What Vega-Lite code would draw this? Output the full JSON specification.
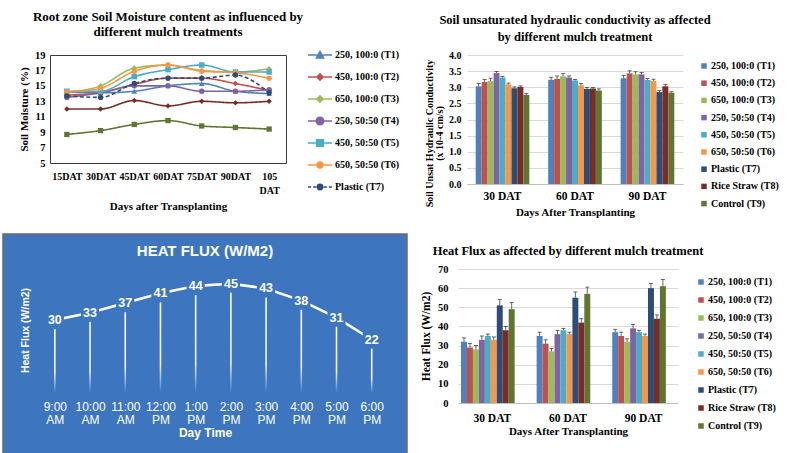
{
  "$schema": "https://vega.github.io/schema/vega-lite/v6.json",
  "background": "white",
  "padding": {"left": 2, "top": 10, "right": 0, "bottom": 0},
  "config": {
    "font": "Liberation Serif",
    "view": {"stroke": null},
    "axis": {"labelColor": "#000000", "titleColor": "#000000", "labelFont": "Liberation Serif", "titleFont": "Liberation Serif", "labelFontWeight": "bold", "titleFontWeight": "bold"},
    "legend": {"labelFont": "Liberation Serif", "labelFontWeight": "bold", "labelColor": "#000000"},
    "title": {"font": "Liberation Serif", "fontWeight": "bold", "color": "#000000", "anchor": "middle"}
  },
  "datasets": {
    "moisture": [
      {"d": "15DAT", "t": "250, 100:0 (T1)", "v": 14.2}, {"d": "30DAT", "t": "250, 100:0 (T1)", "v": 14.1}, {"d": "45DAT", "t": "250, 100:0 (T1)", "v": 14.3}, {"d": "60DAT", "t": "250, 100:0 (T1)", "v": 15.0}, {"d": "75DAT", "t": "250, 100:0 (T1)", "v": 15.3}, {"d": "90DAT", "t": "250, 100:0 (T1)", "v": 14.3}, {"d": "105 DAT", "t": "250, 100:0 (T1)", "v": 14.0},
      {"d": "15DAT", "t": "450, 100:0 (T2)", "v": 13.8}, {"d": "30DAT", "t": "450, 100:0 (T2)", "v": 14.1}, {"d": "45DAT", "t": "450, 100:0 (T2)", "v": 15.2}, {"d": "60DAT", "t": "450, 100:0 (T2)", "v": 16.0}, {"d": "75DAT", "t": "450, 100:0 (T2)", "v": 16.0}, {"d": "90DAT", "t": "450, 100:0 (T2)", "v": 15.3}, {"d": "105 DAT", "t": "450, 100:0 (T2)", "v": 14.4},
      {"d": "15DAT", "t": "650, 100:0 (T3)", "v": 14.2}, {"d": "30DAT", "t": "650, 100:0 (T3)", "v": 15.0}, {"d": "45DAT", "t": "650, 100:0 (T3)", "v": 17.3}, {"d": "60DAT", "t": "650, 100:0 (T3)", "v": 17.7}, {"d": "75DAT", "t": "650, 100:0 (T3)", "v": 17.0}, {"d": "90DAT", "t": "650, 100:0 (T3)", "v": 16.8}, {"d": "105 DAT", "t": "650, 100:0 (T3)", "v": 17.2},
      {"d": "15DAT", "t": "250, 50:50 (T4)", "v": 13.5}, {"d": "30DAT", "t": "250, 50:50 (T4)", "v": 14.1}, {"d": "45DAT", "t": "250, 50:50 (T4)", "v": 15.0}, {"d": "60DAT", "t": "250, 50:50 (T4)", "v": 15.0}, {"d": "75DAT", "t": "250, 50:50 (T4)", "v": 14.3}, {"d": "90DAT", "t": "250, 50:50 (T4)", "v": 14.3}, {"d": "105 DAT", "t": "250, 50:50 (T4)", "v": 14.5},
      {"d": "15DAT", "t": "450, 50:50 (T5)", "v": 14.3}, {"d": "30DAT", "t": "450, 50:50 (T5)", "v": 14.3}, {"d": "45DAT", "t": "450, 50:50 (T5)", "v": 16.2}, {"d": "60DAT", "t": "450, 50:50 (T5)", "v": 17.1}, {"d": "75DAT", "t": "450, 50:50 (T5)", "v": 17.7}, {"d": "90DAT", "t": "450, 50:50 (T5)", "v": 16.8}, {"d": "105 DAT", "t": "450, 50:50 (T5)", "v": 16.8},
      {"d": "15DAT", "t": "650, 50:50 (T6)", "v": 14.2}, {"d": "30DAT", "t": "650, 50:50 (T6)", "v": 14.7}, {"d": "45DAT", "t": "650, 50:50 (T6)", "v": 16.9}, {"d": "60DAT", "t": "650, 50:50 (T6)", "v": 17.7}, {"d": "75DAT", "t": "650, 50:50 (T6)", "v": 16.9}, {"d": "90DAT", "t": "650, 50:50 (T6)", "v": 16.7}, {"d": "105 DAT", "t": "650, 50:50 (T6)", "v": 16.0},
      {"d": "15DAT", "t": "Plastic (T7)", "v": 13.7}, {"d": "30DAT", "t": "Plastic (T7)", "v": 13.5}, {"d": "45DAT", "t": "Plastic (T7)", "v": 15.3}, {"d": "60DAT", "t": "Plastic (T7)", "v": 16.0}, {"d": "75DAT", "t": "Plastic (T7)", "v": 16.0}, {"d": "90DAT", "t": "Plastic (T7)", "v": 16.4}, {"d": "105 DAT", "t": "Plastic (T7)", "v": 14.1},
      {"d": "15DAT", "t": "Rice Straw (T8)", "v": 12.0}, {"d": "30DAT", "t": "Rice Straw (T8)", "v": 12.0}, {"d": "45DAT", "t": "Rice Straw (T8)", "v": 13.1}, {"d": "60DAT", "t": "Rice Straw (T8)", "v": 12.4}, {"d": "75DAT", "t": "Rice Straw (T8)", "v": 13.0}, {"d": "90DAT", "t": "Rice Straw (T8)", "v": 12.8}, {"d": "105 DAT", "t": "Rice Straw (T8)", "v": 13.0},
      {"d": "15DAT", "t": "Control (T9)", "v": 8.7}, {"d": "30DAT", "t": "Control (T9)", "v": 9.2}, {"d": "45DAT", "t": "Control (T9)", "v": 10.0}, {"d": "60DAT", "t": "Control (T9)", "v": 10.5}, {"d": "75DAT", "t": "Control (T9)", "v": 9.8}, {"d": "90DAT", "t": "Control (T9)", "v": 9.6}, {"d": "105 DAT", "t": "Control (T9)", "v": 9.4}
    ],
    "hc": [
      {"d": "30 DAT", "t": "250, 100:0 (T1)", "v": 3.03, "hi": 3.12}, {"d": "30 DAT", "t": "450, 100:0 (T2)", "v": 3.16, "hi": 3.24}, {"d": "30 DAT", "t": "650, 100:0 (T3)", "v": 3.19, "hi": 3.28}, {"d": "30 DAT", "t": "250, 50:50 (T4)", "v": 3.44, "hi": 3.49}, {"d": "30 DAT", "t": "450, 50:50 (T5)", "v": 3.30, "hi": 3.33}, {"d": "30 DAT", "t": "650, 50:50 (T6)", "v": 3.09, "hi": 3.13}, {"d": "30 DAT", "t": "Plastic (T7)", "v": 2.97, "hi": 3.01}, {"d": "30 DAT", "t": "Rice Straw (T8)", "v": 3.01, "hi": 3.04}, {"d": "30 DAT", "t": "Control (T9)", "v": 2.76, "hi": 2.80},
      {"d": "60 DAT", "t": "250, 100:0 (T1)", "v": 3.23, "hi": 3.31}, {"d": "60 DAT", "t": "450, 100:0 (T2)", "v": 3.26, "hi": 3.35}, {"d": "60 DAT", "t": "650, 100:0 (T3)", "v": 3.34, "hi": 3.42}, {"d": "60 DAT", "t": "250, 50:50 (T4)", "v": 3.30, "hi": 3.35}, {"d": "60 DAT", "t": "450, 50:50 (T5)", "v": 3.21, "hi": 3.24}, {"d": "60 DAT", "t": "650, 50:50 (T6)", "v": 3.06, "hi": 3.12}, {"d": "60 DAT", "t": "Plastic (T7)", "v": 2.95, "hi": 2.99}, {"d": "60 DAT", "t": "Rice Straw (T8)", "v": 2.96, "hi": 2.99}, {"d": "60 DAT", "t": "Control (T9)", "v": 2.90, "hi": 2.95},
      {"d": "90 DAT", "t": "250, 100:0 (T1)", "v": 3.28, "hi": 3.37}, {"d": "90 DAT", "t": "450, 100:0 (T2)", "v": 3.43, "hi": 3.51}, {"d": "90 DAT", "t": "650, 100:0 (T3)", "v": 3.40, "hi": 3.48}, {"d": "90 DAT", "t": "250, 50:50 (T4)", "v": 3.40, "hi": 3.46}, {"d": "90 DAT", "t": "450, 50:50 (T5)", "v": 3.23, "hi": 3.27}, {"d": "90 DAT", "t": "650, 50:50 (T6)", "v": 3.20, "hi": 3.25}, {"d": "90 DAT", "t": "Plastic (T7)", "v": 2.85, "hi": 2.90}, {"d": "90 DAT", "t": "Rice Straw (T8)", "v": 3.03, "hi": 3.08}, {"d": "90 DAT", "t": "Control (T9)", "v": 2.83, "hi": 2.86}
    ],
    "hf": [
      {"d": "30 DAT", "t": "250, 100:0 (T1)", "v": 32, "hi": 34}, {"d": "30 DAT", "t": "450, 100:0 (T2)", "v": 29, "hi": 31}, {"d": "30 DAT", "t": "650, 100:0 (T3)", "v": 28, "hi": 30}, {"d": "30 DAT", "t": "250, 50:50 (T4)", "v": 33, "hi": 35}, {"d": "30 DAT", "t": "450, 50:50 (T5)", "v": 35, "hi": 36}, {"d": "30 DAT", "t": "650, 50:50 (T6)", "v": 33, "hi": 34.5}, {"d": "30 DAT", "t": "Plastic (T7)", "v": 51, "hi": 54}, {"d": "30 DAT", "t": "Rice Straw (T8)", "v": 38, "hi": 40}, {"d": "30 DAT", "t": "Control (T9)", "v": 49, "hi": 52.5},
      {"d": "60 DAT", "t": "250, 100:0 (T1)", "v": 35, "hi": 37}, {"d": "60 DAT", "t": "450, 100:0 (T2)", "v": 31, "hi": 33}, {"d": "60 DAT", "t": "650, 100:0 (T3)", "v": 27, "hi": 28.5}, {"d": "60 DAT", "t": "250, 50:50 (T4)", "v": 36, "hi": 38}, {"d": "60 DAT", "t": "450, 50:50 (T5)", "v": 38, "hi": 39}, {"d": "60 DAT", "t": "650, 50:50 (T6)", "v": 36, "hi": 37}, {"d": "60 DAT", "t": "Plastic (T7)", "v": 55, "hi": 58}, {"d": "60 DAT", "t": "Rice Straw (T8)", "v": 42, "hi": 44}, {"d": "60 DAT", "t": "Control (T9)", "v": 57, "hi": 60.5},
      {"d": "90 DAT", "t": "250, 100:0 (T1)", "v": 37, "hi": 38.5}, {"d": "90 DAT", "t": "450, 100:0 (T2)", "v": 35, "hi": 37}, {"d": "90 DAT", "t": "650, 100:0 (T3)", "v": 32, "hi": 33.5}, {"d": "90 DAT", "t": "250, 50:50 (T4)", "v": 39, "hi": 41}, {"d": "90 DAT", "t": "450, 50:50 (T5)", "v": 37, "hi": 38}, {"d": "90 DAT", "t": "650, 50:50 (T6)", "v": 35, "hi": 36}, {"d": "90 DAT", "t": "Plastic (T7)", "v": 60, "hi": 62.5}, {"d": "90 DAT", "t": "Rice Straw (T8)", "v": 44, "hi": 46}, {"d": "90 DAT", "t": "Control (T9)", "v": 61, "hi": 64.5}
    ],
    "flux": [
      {"hour": 9, "flux": 30}, {"hour": 10, "flux": 33}, {"hour": 11, "flux": 37}, {"hour": 12, "flux": 41}, {"hour": 13, "flux": 44},
      {"hour": 14, "flux": 45}, {"hour": 15, "flux": 43}, {"hour": 16, "flux": 38}, {"hour": 17, "flux": 31}, {"hour": 18, "flux": 22}
    ]
  },
  "spacing": 15,
  "resolve": {"scale": {"color": "independent"}, "legend": {"color": "independent"}},
  "vconcat": [
    {
      "spacing": 23,
      "resolve": {"scale": {"color": "independent"}, "legend": {"color": "independent"}},
      "hconcat": [
        {
          "spacing": 0,
          "hconcat": [
            {"data": {"values": []}, "mark": "point", "width": 14, "height": 10, "view": {"stroke": "transparent"}},
            {
              "width": 236,
              "height": 108,
              "title": {"text": ["Root zone Soil Moisture content as influenced by", "different mulch treatments"], "fontSize": 13, "lineHeight": 15, "offset": 4},
              "view": {"stroke": "#3a3a3a", "strokeWidth": 1},
              "data": {"name": "moisture"},
              "encoding": {
                "x": {"field": "d", "type": "nominal", "sort": null,
                  "scale": {"type": "point", "padding": 0.5, "domain": ["15DAT", "30DAT", "45DAT", "60DAT", "75DAT", "90DAT", "105 DAT"]},
                  "axis": {"labelAngle": 0, "ticks": false, "domain": false, "labelFontSize": 10, "labelPadding": 8, "labelLineHeight": 14,
                    "labelExpr": "datum.label == '105 DAT' ? ['105', 'DAT'] : datum.label",
                    "title": "Days after Transplanting", "titleFontSize": 11, "titlePadding": 5}},
                "y": {"field": "v", "type": "quantitative",
                  "scale": {"domain": [5, 19], "nice": false, "zero": false},
                  "axis": {"values": [5, 7, 9, 11, 13, 15, 17, 19], "ticks": false, "domain": false, "grid": false, "labelFontSize": 10.5, "labelPadding": 5,
                    "title": "Soil Moisture (%)", "titleFontSize": 11, "titlePadding": 5}}
              },
              "layer": [
                {
                  "mark": {"type": "line", "strokeWidth": 1.6, "interpolate": "monotone"},
                  "encoding": {
                    "color": {"field": "t", "type": "nominal", "legend": null,
                      "scale": {"domain": ["250, 100:0 (T1)", "450, 100:0 (T2)", "650, 100:0 (T3)", "250, 50:50 (T4)", "450, 50:50 (T5)", "650, 50:50 (T6)", "Plastic (T7)", "Rice Straw (T8)", "Control (T9)"],
                        "range": ["#4F81BD", "#C0504D", "#9BBB59", "#8064A2", "#4BACC6", "#F79646", "#2C4D75", "#772C2A", "#5F7530"]}},
                    "strokeDash": {"field": "t", "type": "nominal", "legend": null,
                      "scale": {"domain": ["250, 100:0 (T1)", "450, 100:0 (T2)", "650, 100:0 (T3)", "250, 50:50 (T4)", "450, 50:50 (T5)", "650, 50:50 (T6)", "Plastic (T7)", "Rice Straw (T8)", "Control (T9)"],
                        "range": [[1, 0], [1, 0], [1, 0], [1, 0], [1, 0], [1, 0], [4, 2.5], [1, 0], [1, 0]]}}
                  }
                },
                {
                  "mark": {"type": "point", "filled": true, "opacity": 1},
                  "encoding": {
                    "color": {"field": "t", "type": "nominal", "legend": null,
                      "scale": {"domain": ["250, 100:0 (T1)", "450, 100:0 (T2)", "650, 100:0 (T3)", "250, 50:50 (T4)", "450, 50:50 (T5)", "650, 50:50 (T6)", "Plastic (T7)", "Rice Straw (T8)", "Control (T9)"],
                        "range": ["#4F81BD", "#C0504D", "#9BBB59", "#8064A2", "#4BACC6", "#F79646", "#2C4D75", "#772C2A", "#5F7530"]}},
                    "shape": {"field": "t", "type": "nominal", "legend": null,
                      "scale": {"domain": ["250, 100:0 (T1)", "450, 100:0 (T2)", "650, 100:0 (T3)", "250, 50:50 (T4)", "450, 50:50 (T5)", "650, 50:50 (T6)", "Plastic (T7)", "Rice Straw (T8)", "Control (T9)"],
                        "range": ["triangle-up", "diamond", "diamond", "circle", "square", "circle", "circle", "diamond", "square"]}},
                    "size": {"field": "t", "type": "nominal", "legend": null,
                      "scale": {"domain": ["250, 100:0 (T1)", "450, 100:0 (T2)", "650, 100:0 (T3)", "250, 50:50 (T4)", "450, 50:50 (T5)", "650, 50:50 (T6)", "Plastic (T7)", "Rice Straw (T8)", "Control (T9)"],
                        "range": [32, 28, 28, 60, 55, 40, 34, 50, 64]}}
                  }
                },
                {
                  "mark": {"type": "point", "filled": true, "opacity": 0},
                  "encoding": {
                    "fill": {"field": "t", "type": "nominal",
                      "scale": {"domain": ["250, 100:0 (T1)", "450, 100:0 (T2)", "650, 100:0 (T3)", "250, 50:50 (T4)", "450, 50:50 (T5)", "650, 50:50 (T6)", "Plastic (T7)", "Rice Straw (T8)", "Control (T9)"],
                        "range": ["#4F81BD", "#C0504D", "#9BBB59", "#8064A2", "#4BACC6", "#F79646", "#2C4D75", "#772C2A", "#5F7530"]},
                      "legend": {"orient": "none", "legendX": 258, "legendY": -12, "title": null, "values": ["250, 100:0 (T1)", "450, 100:0 (T2)", "650, 100:0 (T3)", "250, 50:50 (T4)", "450, 50:50 (T5)", "650, 50:50 (T6)", "Plastic (T7)"], "symbolSize": 484, "symbolStrokeWidth": 1.6, "symbolOpacity": 1, "labelFontSize": 10, "labelOffset": 3, "rowPadding": 3}},
                    "stroke": {"field": "t", "type": "nominal",
                      "scale": {"domain": ["250, 100:0 (T1)", "450, 100:0 (T2)", "650, 100:0 (T3)", "250, 50:50 (T4)", "450, 50:50 (T5)", "650, 50:50 (T6)", "Plastic (T7)", "Rice Straw (T8)", "Control (T9)"],
                        "range": ["#4F81BD", "#C0504D", "#9BBB59", "#8064A2", "#4BACC6", "#F79646", "#2C4D75", "#772C2A", "#5F7530"]},
                      "legend": {"orient": "none", "legendX": 258, "legendY": -12, "title": null, "values": ["250, 100:0 (T1)", "450, 100:0 (T2)", "650, 100:0 (T3)", "250, 50:50 (T4)", "450, 50:50 (T5)", "650, 50:50 (T6)", "Plastic (T7)"], "symbolSize": 484, "symbolStrokeWidth": 1.6, "symbolOpacity": 1, "labelFontSize": 10, "labelOffset": 3, "rowPadding": 3}},
                    "shape": {"field": "t", "type": "nominal",
                      "scale": {"domain": ["250, 100:0 (T1)", "450, 100:0 (T2)", "650, 100:0 (T3)", "250, 50:50 (T4)", "450, 50:50 (T5)", "650, 50:50 (T6)", "Plastic (T7)", "Rice Straw (T8)", "Control (T9)"],
                        "range": [
                          "M-1.1,0H1.1M-0.32,0.26L0,-0.3L0.32,0.26Z",
                          "M-1.1,0H1.1M-0.28,0L0,-0.28L0.28,0L0,0.28Z",
                          "M-1.1,0H1.1M-0.28,0L0,-0.28L0.28,0L0,0.28Z",
                          "M-1.1,0H1.1M-0.34,0A0.34,0.34,0,1,0,0.34,0A0.34,0.34,0,1,0,-0.34,0Z",
                          "M-1.1,0H1.1M-0.3,-0.3H0.3V0.3H-0.3Z",
                          "M-1.1,0H1.1M-0.26,0A0.26,0.26,0,1,0,0.26,0A0.26,0.26,0,1,0,-0.26,0Z",
                          "M-1.1,0H-0.8M-0.62,0H-0.34M0.34,0H0.62M0.8,0H1.1M-0.24,0A0.24,0.24,0,1,0,0.24,0A0.24,0.24,0,1,0,-0.24,0Z",
                          "M-1.1,0H1.1M-0.3,0L0,-0.3L0.3,0L0,0.3Z",
                          "M-1.1,0H1.1M-0.3,-0.3H0.3V0.3H-0.3Z"
                        ]},
                      "legend": {"orient": "none", "legendX": 258, "legendY": -12, "title": null, "values": ["250, 100:0 (T1)", "450, 100:0 (T2)", "650, 100:0 (T3)", "250, 50:50 (T4)", "450, 50:50 (T5)", "650, 50:50 (T6)", "Plastic (T7)"], "symbolSize": 484, "symbolStrokeWidth": 1.6, "symbolOpacity": 1, "labelFontSize": 10, "labelOffset": 3, "rowPadding": 3}}
                  }
                }
              ],
              "resolve": {"scale": {"shape": "independent", "fill": "independent", "stroke": "independent"}}
            }
          ]
        },
        {
          "width": 216,
          "height": 129,
          "title": {"text": ["Soil unsaturated hydraulic conductivity as affected", "by different mulch treatment"], "fontSize": 12.5, "lineHeight": 17, "offset": 7},
          "data": {"name": "hc"},
          "encoding": {
            "x": {"field": "d", "type": "nominal", "sort": null,
              "scale": {"paddingInner": 0.26, "paddingOuter": 0.12},
              "axis": {"labelAngle": 0, "ticks": false, "domainColor": "#bfbfbf", "labelFontSize": 11.5, "labelPadding": 6,
                "title": "Days After Transplanting", "titleFontSize": 11, "titlePadding": 5}},
            "xOffset": {"field": "t", "type": "nominal",
              "scale": {"domain": ["250, 100:0 (T1)", "450, 100:0 (T2)", "650, 100:0 (T3)", "250, 50:50 (T4)", "450, 50:50 (T5)", "650, 50:50 (T6)", "Plastic (T7)", "Rice Straw (T8)", "Control (T9)"], "paddingInner": 0, "paddingOuter": 0}},
            "y": {"field": "v", "type": "quantitative",
              "scale": {"domain": [0, 4], "nice": false},
              "axis": {"values": [0, 0.5, 1, 1.5, 2, 2.5, 3, 3.5, 4], "format": ".1f", "domain": false, "ticks": false, "gridColor": "#d9d9d9",
                "labelFontSize": 10, "labelPadding": 6,
                "title": ["Soil Unsat Hydraulic Conductivity", "(x 10-4 cm/s)"], "titleFontSize": 10, "titleLineHeight": 10, "titlePadding": 4, "titleY": 78}}
          },
          "layer": [
            {
              "mark": {"type": "bar"},
              "encoding": {
                "color": {"field": "t", "type": "nominal",
                  "scale": {"domain": ["250, 100:0 (T1)", "450, 100:0 (T2)", "650, 100:0 (T3)", "250, 50:50 (T4)", "450, 50:50 (T5)", "650, 50:50 (T6)", "Plastic (T7)", "Rice Straw (T8)", "Control (T9)"],
                    "range": ["#4F81BD", "#C0504D", "#9BBB59", "#8064A2", "#4BACC6", "#F79646", "#2C4D75", "#772C2A", "#5F7530"]},
                  "legend": {"orient": "none", "legendX": 232, "legendY": 6, "title": null, "symbolType": "square", "symbolSize": 30, "labelFontSize": 10, "labelOffset": 2, "rowPadding": 7.2}}
              }
            },
            {"mark": {"type": "rule", "color": "#3f3f3f", "strokeWidth": 0.8}, "encoding": {"y2": {"field": "hi"}}},
            {"mark": {"type": "tick", "orient": "horizontal", "size": 4, "thickness": 0.8, "color": "#3f3f3f", "opacity": 1}, "encoding": {"y": {"field": "hi", "type": "quantitative"}}}
          ]
        }
      ]
    },
    {
      "spacing": 12,
      "resolve": {"scale": {"color": "independent"}, "legend": {"color": "independent"}},
      "hconcat": [
        {
          "width": 404,
          "height": 221,
          "data": {"name": "flux"},
          "view": {"fill": "#3d76bf", "stroke": "#6b6b6b", "strokeWidth": 1.5},
          "title": {"text": "HEAT FLUX (W/M2)", "color": "#ffffff", "font": "Liberation Sans", "fontSize": 15, "fontWeight": "bold", "offset": -25, "anchor": "middle"},
          "encoding": {
            "x": {"field": "hour", "type": "quantitative",
              "scale": {"domain": [7.67, 18.86], "nice": false, "zero": false},
              "axis": {"values": [9, 10, 11, 12, 13, 14, 15, 16, 17, 18],
                "labelExpr": "[(datum.value > 12 ? datum.value - 12 : datum.value) + ':00', datum.value >= 12 ? 'PM' : 'AM']",
                "offset": -56, "domain": false, "ticks": false, "grid": false,
                "labelColor": "#ffffff", "labelFont": "Liberation Sans", "labelFontWeight": "normal", "labelFontSize": 12, "labelLineHeight": 13, "labelPadding": 2,
                "title": "Day Time", "titleColor": "#ffffff", "titleFont": "Liberation Sans", "titleFontSize": 12, "titlePadding": 2}},
            "y": {"field": "flux", "type": "quantitative",
              "scale": {"domain": [-25.5, 65.4], "nice": false, "zero": false},
              "axis": {"offset": -28, "domain": false, "ticks": false, "labels": false, "grid": false,
                "title": "Heat Flux (W/m2)", "titleColor": "#ffffff", "titleFont": "Liberation Sans", "titleFontSize": 10.5, "titlePadding": 1, "titleY": 96}}
          },
          "layer": [
            {
              "mark": {"type": "bar", "size": 1.6,
                "color": {"gradient": "linear", "x1": 0, "y1": 0, "x2": 0, "y2": 1,
                  "stops": [{"offset": 0, "color": "#ffffff"}, {"offset": 0.72, "color": "#eef3fa"}, {"offset": 1, "color": "#3d76bf"}]}},
              "encoding": {"y2": {"datum": 0}}
            },
            {"mark": {"type": "line", "color": "#ffffff", "strokeWidth": 2.6}},
            {"mark": {"type": "point", "shape": "square", "filled": true, "color": "#3d76bf", "size": 330, "opacity": 1}},
            {"mark": {"type": "text", "color": "#ffffff", "font": "Liberation Sans", "fontSize": 12.5, "fontWeight": "bold"}, "encoding": {"text": {"field": "flux", "type": "quantitative"}}}
          ]
        },
        {
          "spacing": 0,
          "resolve": {"scale": {"color": "independent"}, "legend": {"color": "independent"}},
          "vconcat": [
            {"data": {"values": []}, "mark": "point", "width": 10, "height": 9, "view": {"stroke": "transparent"}},
            {
              "width": 220,
              "height": 134,
              "title": {"text": "Heat Flux as affected by different mulch treatment", "fontSize": 12.5, "offset": 7},
              "data": {"name": "hf"},
              "encoding": {
                "x": {"field": "d", "type": "nominal", "sort": null,
                  "scale": {"paddingInner": 0.17, "paddingOuter": 0.04},
                  "axis": {"labelAngle": 0, "ticks": false, "domainColor": "#bfbfbf", "labelFontSize": 11.5, "labelPadding": 9,
                    "title": "Days After Transplanting", "titleFontSize": 11, "titlePadding": 2}},
                "xOffset": {"field": "t", "type": "nominal",
                  "scale": {"domain": ["250, 100:0 (T1)", "450, 100:0 (T2)", "650, 100:0 (T3)", "250, 50:50 (T4)", "450, 50:50 (T5)", "650, 50:50 (T6)", "Plastic (T7)", "Rice Straw (T8)", "Control (T9)"], "paddingInner": 0, "paddingOuter": 0}},
                "y": {"field": "v", "type": "quantitative",
                  "scale": {"domain": [0, 70], "nice": false},
                  "axis": {"values": [0, 10, 20, 30, 40, 50, 60, 70], "domain": false, "ticks": false, "gridColor": "#d9d9d9",
                    "labelFontSize": 10.5, "labelPadding": 10,
                    "title": "Heat Flux (W/m2)", "titleFontSize": 11.5, "titlePadding": 6}}
              },
              "layer": [
                {
                  "mark": {"type": "bar"},
                  "encoding": {
                    "color": {"field": "t", "type": "nominal",
                      "scale": {"domain": ["250, 100:0 (T1)", "450, 100:0 (T2)", "650, 100:0 (T3)", "250, 50:50 (T4)", "450, 50:50 (T5)", "650, 50:50 (T6)", "Plastic (T7)", "Rice Straw (T8)", "Control (T9)"],
                        "range": ["#4F81BD", "#C0504D", "#9BBB59", "#8064A2", "#4BACC6", "#F79646", "#2C4D75", "#772C2A", "#5F7530"]},
                      "legend": {"orient": "none", "legendX": 238, "legendY": 8, "title": null, "symbolType": "square", "symbolSize": 30, "labelFontSize": 10, "labelOffset": 2, "rowPadding": 8}}
                  }
                },
                {"mark": {"type": "rule", "color": "#3f3f3f", "strokeWidth": 0.8}, "encoding": {"y2": {"field": "hi"}}},
                {"mark": {"type": "tick", "orient": "horizontal", "size": 4, "thickness": 0.8, "color": "#3f3f3f", "opacity": 1}, "encoding": {"y": {"field": "hi", "type": "quantitative"}}}
              ]
            }
          ]
        }
      ]
    }
  ]
}
